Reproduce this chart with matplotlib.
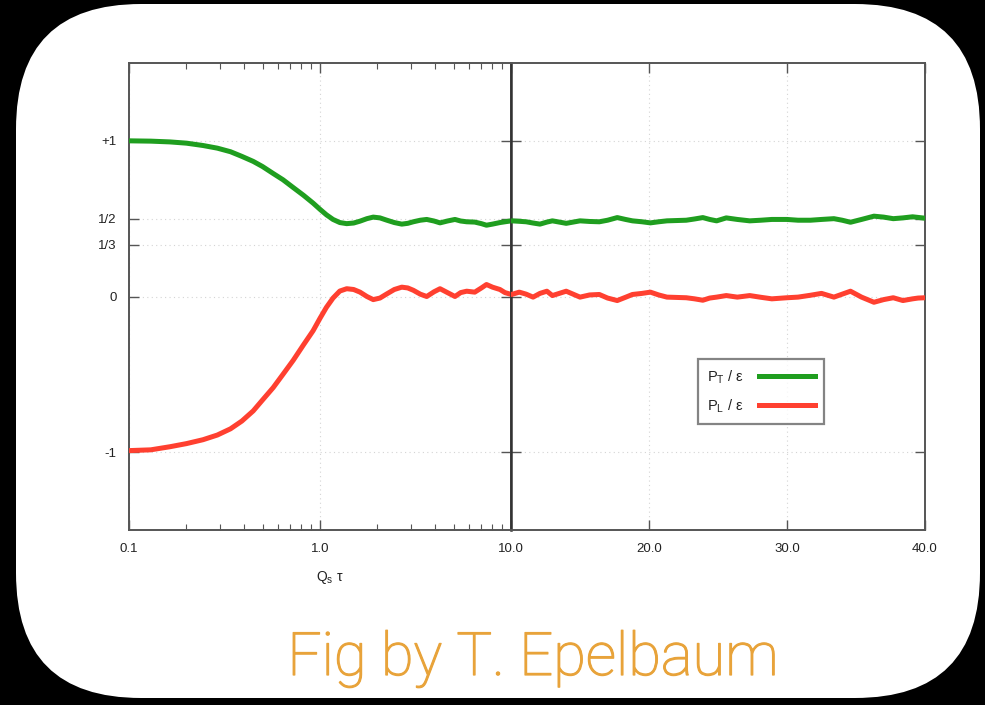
import matplotlib
matplotlib.use("Agg")
import matplotlib.pyplot as plt
import matplotlib.patheffects as pe
from matplotlib.patches import FancyBboxPatch
from matplotlib.lines import Line2D
from matplotlib.ticker import LogLocator, NullFormatter

# Proper time Q_s * tau
tau = [0.1, 0.13, 0.164, 0.2, 0.244, 0.29, 0.34, 0.39, 0.447, 0.5, 0.569, 0.64,
       0.724, 0.82, 0.92, 1.0, 1.08, 1.17, 1.27, 1.38, 1.5, 1.62, 1.76, 1.9,
       2.06, 2.24, 2.45, 2.68, 2.88, 3.08, 3.35, 3.62, 3.95, 4.25, 4.65, 5.09,
       5.45, 5.86, 6.46, 7.0, 7.44, 8.0, 8.75, 9.3, 10.05, 10.6, 11.1, 11.6,
       12.1, 12.6, 13.0, 13.5, 14.0, 14.5, 15.0, 15.7, 16.4, 17.0, 17.7, 18.3,
       18.8, 19.5, 20.1, 20.7, 21.3, 22.0, 22.7, 23.3, 23.9, 24.4, 24.9, 25.6,
       26.4, 27.3, 28.1, 28.9, 30.0, 30.8, 31.7, 32.5, 33.4, 34.0, 34.6, 35.4,
       36.3, 37.0, 37.7, 38.4, 39.1, 39.5, 40.0]

# Transverse pressure over energy density
pt_eps = [1.0, 0.998, 0.993, 0.985, 0.97, 0.953, 0.93, 0.9, 0.868, 0.835, 0.79,
          0.75, 0.70, 0.65, 0.60, 0.56, 0.525, 0.495, 0.475, 0.468, 0.472, 0.484,
          0.5, 0.51, 0.505, 0.49, 0.475, 0.465, 0.47, 0.48, 0.49, 0.495, 0.485,
          0.473, 0.485, 0.495, 0.485, 0.48, 0.478, 0.468, 0.458, 0.465, 0.475,
          0.48, 0.486, 0.483, 0.48, 0.472, 0.465, 0.478, 0.486, 0.478, 0.47,
          0.478, 0.486, 0.482, 0.48, 0.49, 0.507, 0.495, 0.486, 0.48, 0.473,
          0.48, 0.486, 0.488, 0.49, 0.498, 0.507, 0.495, 0.486, 0.505, 0.495,
          0.486, 0.49, 0.495, 0.495, 0.49, 0.49, 0.495, 0.50, 0.49, 0.477,
          0.495, 0.516, 0.51, 0.50, 0.505, 0.512, 0.508, 0.503]

# Longitudinal pressure over energy density
pl_eps = [-0.99, -0.985, -0.965, -0.945, -0.92, -0.89, -0.85, -0.80, -0.735,
          -0.665, -0.585, -0.5, -0.41, -0.31, -0.22, -0.14, -0.07, -0.01, 0.035,
          0.05, 0.045, 0.028, 0.0, -0.02, -0.01, 0.017, 0.045, 0.06, 0.055, 0.04,
          0.015, 0.0, 0.03, 0.05, 0.025, 0.0, 0.025, 0.034, 0.028, 0.055, 0.077,
          0.06, 0.045, 0.025, 0.013, 0.028, 0.015, -0.004, 0.02, 0.034, 0.006,
          0.02, 0.034, 0.015, -0.004, 0.01, 0.013, -0.01, -0.026, -0.005, 0.013,
          0.02, 0.028, 0.01, -0.004, -0.006, -0.008, -0.015, -0.024, -0.01,
          -0.004, 0.006, -0.004, 0.006, -0.005, -0.015, -0.008, -0.004, 0.008,
          0.02, -0.004, 0.015, 0.034, -0.004, -0.037, -0.02, -0.008, -0.026,
          -0.015, -0.01, -0.008]

ytick_vals = [-1, 0, 1/3, 1/2, 1]
ytick_labels = ["-1", "0", "1/3", "1/2", "+1"]
xtick_log = [0.1, 1.0]
xtick_log_labels = ["0.1", "1.0"]
xtick_lin = [10, 20, 30, 40]
xtick_lin_labels = ["10.0", "20.0", "30.0", "40.0"]

GREEN = "#1f9e1f"
RED = "#ff4030"
SPINE = "#555555"
TXT = "#222222"
ORANGE = "#E8A33A"
LW = 3.6

W, H = 985, 705
fig = plt.figure(figsize=(W / 100, H / 100), dpi=100, facecolor="black")
plt.rcParams["font.family"] = ["Liberation Sans", "DejaVu Sans"]

# Rounded white card
bg = fig.add_axes([0, 0, 1, 1])
bg.set_xlim(0, W)
bg.set_ylim(H, 0)
bg.axis("off")
bg.set_facecolor("black")
card = FancyBboxPatch((16, 4), 964, 694, boxstyle="round,pad=0,rounding_size=125",
                      facecolor="white", edgecolor="none")
bg.add_patch(card)


def px_rect(x0, x1, y0, y1):
    return [x0 / W, 1 - y1 / H, (x1 - x0) / W, (y1 - y0) / H]


top, bottom = 63, 530
ax_log = fig.add_axes(px_rect(129, 511, top, bottom))
ax_lin = fig.add_axes(px_rect(511, 925, top, bottom), sharey=ax_log)

for ax in (ax_log, ax_lin):
    ax.set_facecolor("none")
    ax.plot(tau, pt_eps, color=GREEN, lw=LW, solid_capstyle="round", zorder=3)
    ax.plot(tau, pl_eps, color=RED, lw=LW, solid_capstyle="round", zorder=3)
    for s in ax.spines.values():
        s.set_color(SPINE)
        s.set_linewidth(1.4)
    ax.tick_params(which="both", direction="in", top=True, right=True,
                   left=True, bottom=True, color=SPINE, labelsize=9.5,
                   labelcolor=TXT)
    ax.tick_params(which="major", length=7, width=1.0)
    ax.tick_params(which="minor", length=4, width=0.8)
    ax.grid(True, which="major", color="#d4d4d4", lw=0.8, ls=(0, (1, 3)))

ax_log.set_xscale("log")
ax_log.set_xlim(0.1, 10)
ax_log.set_xticks(xtick_log)
ax_log.set_xticklabels(xtick_log_labels)
ax_log.xaxis.set_minor_locator(LogLocator(base=10, subs=range(2, 10)))
ax_log.xaxis.set_minor_formatter(NullFormatter())
ax_log.set_ylim(-1.5, 1.5)
ax_log.set_yticks(ytick_vals)
ax_log.set_yticklabels(ytick_labels)
ax_log.tick_params(axis="y", pad=9)
ax_log.tick_params(axis="x", pad=9)

ax_lin.set_xlim(10, 40)
ax_lin.set_xticks(xtick_lin)
ax_lin.set_xticklabels(xtick_lin_labels)
ax_lin.tick_params(axis="y", labelleft=False)
ax_lin.tick_params(axis="x", pad=9)
ax_lin.spines["left"].set_color("#333333")
ax_lin.spines["left"].set_linewidth(1.8)

# Legend
handles = [Line2D([], [], color=GREEN, lw=LW),
           Line2D([], [], color=RED, lw=LW)]
leg = ax_lin.legend(handles, [r"P$_\mathregular{T}$ / ε", r"P$_\mathregular{L}$ / ε"],
                    loc="upper left", bbox_to_anchor=(0.452, 0.366),
                    borderaxespad=0, markerfirst=False, fancybox=False,
                    frameon=True, fontsize=10.5, handlelength=3.9,
                    handletextpad=1.0, borderpad=0.6, labelspacing=0.8)
leg.get_frame().set_edgecolor("#666666")
leg.get_frame().set_linewidth(1.6)
for t in leg.get_texts():
    t.set_color(TXT)

fig.text(330 / W, 1 - 578 / H, r"Q$_\mathregular{s}$ τ", ha="center", va="center",
         fontsize=10, color=TXT)

fig.text(533 / W, 1 - 675 / H, "Fig by T. Epelbaum", ha="center", va="baseline",
         fontsize=43, color=ORANGE, family=["Roboto", "DejaVu Sans"],
         fontweight="light",
         path_effects=[pe.withStroke(linewidth=0.9, foreground=ORANGE)])

fig.savefig("out.png", dpi=100, facecolor="black")
